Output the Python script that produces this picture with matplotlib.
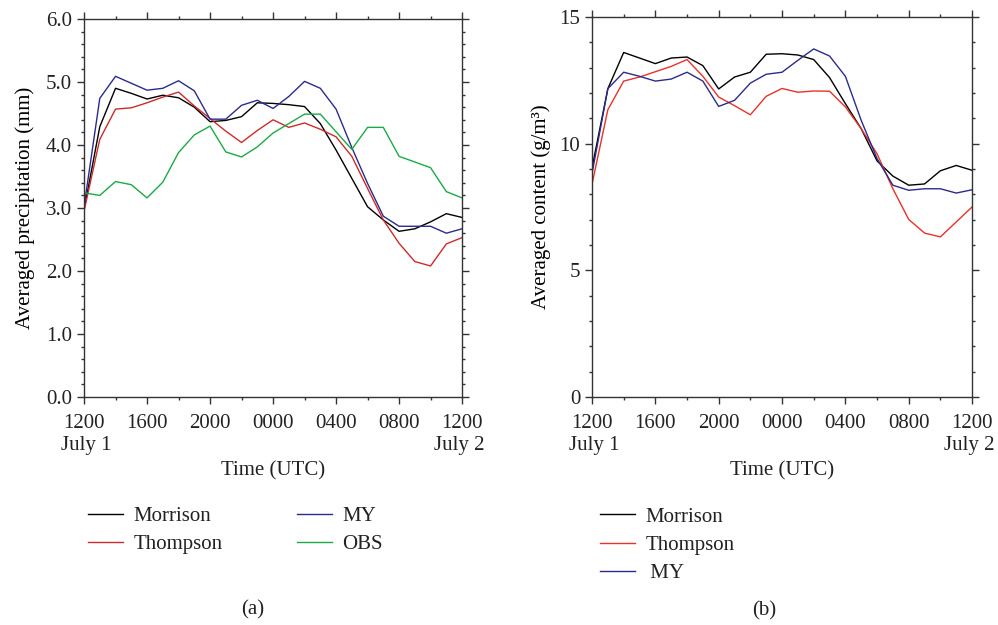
import matplotlib
matplotlib.use("Agg")
import matplotlib.pyplot as plt
from matplotlib.ticker import MultipleLocator, FixedLocator
import numpy as np

plt.rcParams['font.family'] = ['Liberation Serif', 'DejaVu Serif']
plt.rcParams['font.size'] = 15
plt.rcParams['text.color'] = '#222222'
plt.rcParams['xtick.color'] = '#333333'
plt.rcParams['ytick.color'] = '#333333'
plt.rcParams['xtick.labelcolor'] = '#222222'
plt.rcParams['ytick.labelcolor'] = '#222222'

# hours since 1200 UTC July 1
hours = np.arange(25)
tick_hours = [0, 4, 8, 12, 16, 20, 24]
tick_labels = ['1200', '1600', '2000', '0000', '0400', '0800', '1200']

# (a) averaged precipitation (mm)
prec_morrison = [2.97, 4.29, 4.90, 4.82, 4.73, 4.79, 4.75, 4.60, 4.37, 4.39, 4.45, 4.67, 4.66,
                 4.64, 4.61, 4.34, 3.92, 3.47, 3.02, 2.81, 2.63, 2.67, 2.78, 2.91, 2.85]
prec_thompson = [2.95, 4.09, 4.57, 4.59, 4.67, 4.76, 4.84, 4.62, 4.42, 4.22, 4.04, 4.23, 4.40,
                 4.28, 4.35, 4.25, 4.13, 3.82, 3.31, 2.81, 2.44, 2.15, 2.08, 2.43, 2.53]
prec_my = [3.02, 4.74, 5.09, 4.98, 4.87, 4.90, 5.02, 4.86, 4.41, 4.41, 4.63, 4.71, 4.58,
           4.77, 5.01, 4.90, 4.57, 3.96, 3.39, 2.87, 2.71, 2.71, 2.71, 2.60, 2.67]
prec_obs = [3.24, 3.20, 3.42, 3.37, 3.16, 3.41, 3.88, 4.16, 4.30, 3.89, 3.81, 3.97, 4.19,
            4.34, 4.49, 4.49, 4.21, 3.93, 4.28, 4.28, 3.82, 3.73, 3.64, 3.26, 3.16]

# (b) averaged content (g/m3)
cont_morrison = [9.05, 12.17, 13.60, 13.38, 13.16, 13.38, 13.42, 13.08, 12.16, 12.63, 12.82, 13.53, 13.55,
                 13.50, 13.32, 12.61, 11.58, 10.59, 9.32, 8.72, 8.36, 8.41, 8.93, 9.14, 8.95]
cont_thompson = [8.40, 11.34, 12.47, 12.63, 12.84, 13.05, 13.32, 12.66, 11.84, 11.50, 11.14, 11.87, 12.18,
                 12.03, 12.08, 12.07, 11.45, 10.59, 9.60, 8.22, 7.01, 6.47, 6.32, 6.91, 7.50]
cont_my = [8.82, 12.17, 12.82, 12.66, 12.47, 12.55, 12.82, 12.47, 11.47, 11.71, 12.39, 12.74, 12.82,
           13.29, 13.74, 13.46, 12.66, 10.92, 9.41, 8.36, 8.16, 8.22, 8.22, 8.05, 8.18]


def style_axes(ax):
    ax.set_xlim(0, 24)
    ax.xaxis.set_major_locator(FixedLocator(tick_hours))
    ax.xaxis.set_minor_locator(MultipleLocator(2))
    ax.set_xticklabels(tick_labels)
    ax.tick_params(which='both', direction='out', top=True, right=True,
                   labeltop=False, labelright=False, width=1.0)
    ax.tick_params(which='major', length=5)
    ax.tick_params(which='minor', length=2.5)
    ax.tick_params(axis='x', pad=7)
    for s in ax.spines.values():
        s.set_linewidth(1.0)
        s.set_color('#333333')
    ax.text(-0.06, -0.127, 'July 1', transform=ax.transAxes, ha='left', va='center')
    ax.text(1.06, -0.127, 'July 2', transform=ax.transAxes, ha='right', va='center')
    ax.text(0.5, -0.195, 'Time (UTC)', transform=ax.transAxes, ha='center', va='center')


fig = plt.figure(figsize=(9.98, 6.25), dpi=100)

# panel (a)
ax1 = fig.add_axes([0.0842, 0.3648, 0.3788, 0.6048])
ax1.plot(hours, prec_morrison, color='black', lw=1.0, label='Morrison')
ax1.plot(hours, prec_thompson, color='#cc2b2b', lw=1.0, label='Thompson')
ax1.plot(hours, prec_my, color='#2b2b8c', lw=1.0, label='MY')
ax1.plot(hours, prec_obs, color='#1aab45', lw=1.0, label='OBS')
style_axes(ax1)
ax1.set_ylim(0, 6)
ax1.set_yticks(np.arange(0, 7))
ax1.set_yticklabels(['%.1f' % v for v in np.arange(0, 7)])
ax1.yaxis.set_minor_locator(MultipleLocator(0.2))
ax1.set_ylabel('Averaged precipitation (mm)', labelpad=8)
ax1.legend(loc='upper left', bbox_to_anchor=(-0.011, -0.268), ncol=2, frameon=False,
           handlelength=1.68, handletextpad=0.48, columnspacing=3.6, labelspacing=0.41,
           borderaxespad=0)
ax1.text(0.447, -0.562, '(a)', transform=ax1.transAxes, ha='center', va='center')

# panel (b)
ax2 = fig.add_axes([0.5932, 0.3648, 0.3808, 0.608])
ax2.plot(hours, cont_morrison, color='black', lw=1.0, label='Morrison')
ax2.plot(hours, cont_thompson, color='#e8322a', lw=1.0, label='Thompson')
ax2.plot(hours, cont_my, color='#2b2b8c', lw=1.0, label=' MY')
style_axes(ax2)
ax2.set_ylim(0, 15)
ax2.yaxis.set_major_locator(MultipleLocator(5))
ax2.yaxis.set_minor_locator(MultipleLocator(1))
ax2.set_ylabel('Averaged content (g/m³)', labelpad=6)
ax2.legend(loc='upper left', bbox_to_anchor=(0.0, -0.268), ncol=1, frameon=False,
           handlelength=1.68, handletextpad=0.48, labelspacing=0.41, borderaxespad=0)
ax2.text(0.453, -0.562, '(b)', transform=ax2.transAxes, ha='center', va='center')

fig.savefig('out.png', dpi=100)
